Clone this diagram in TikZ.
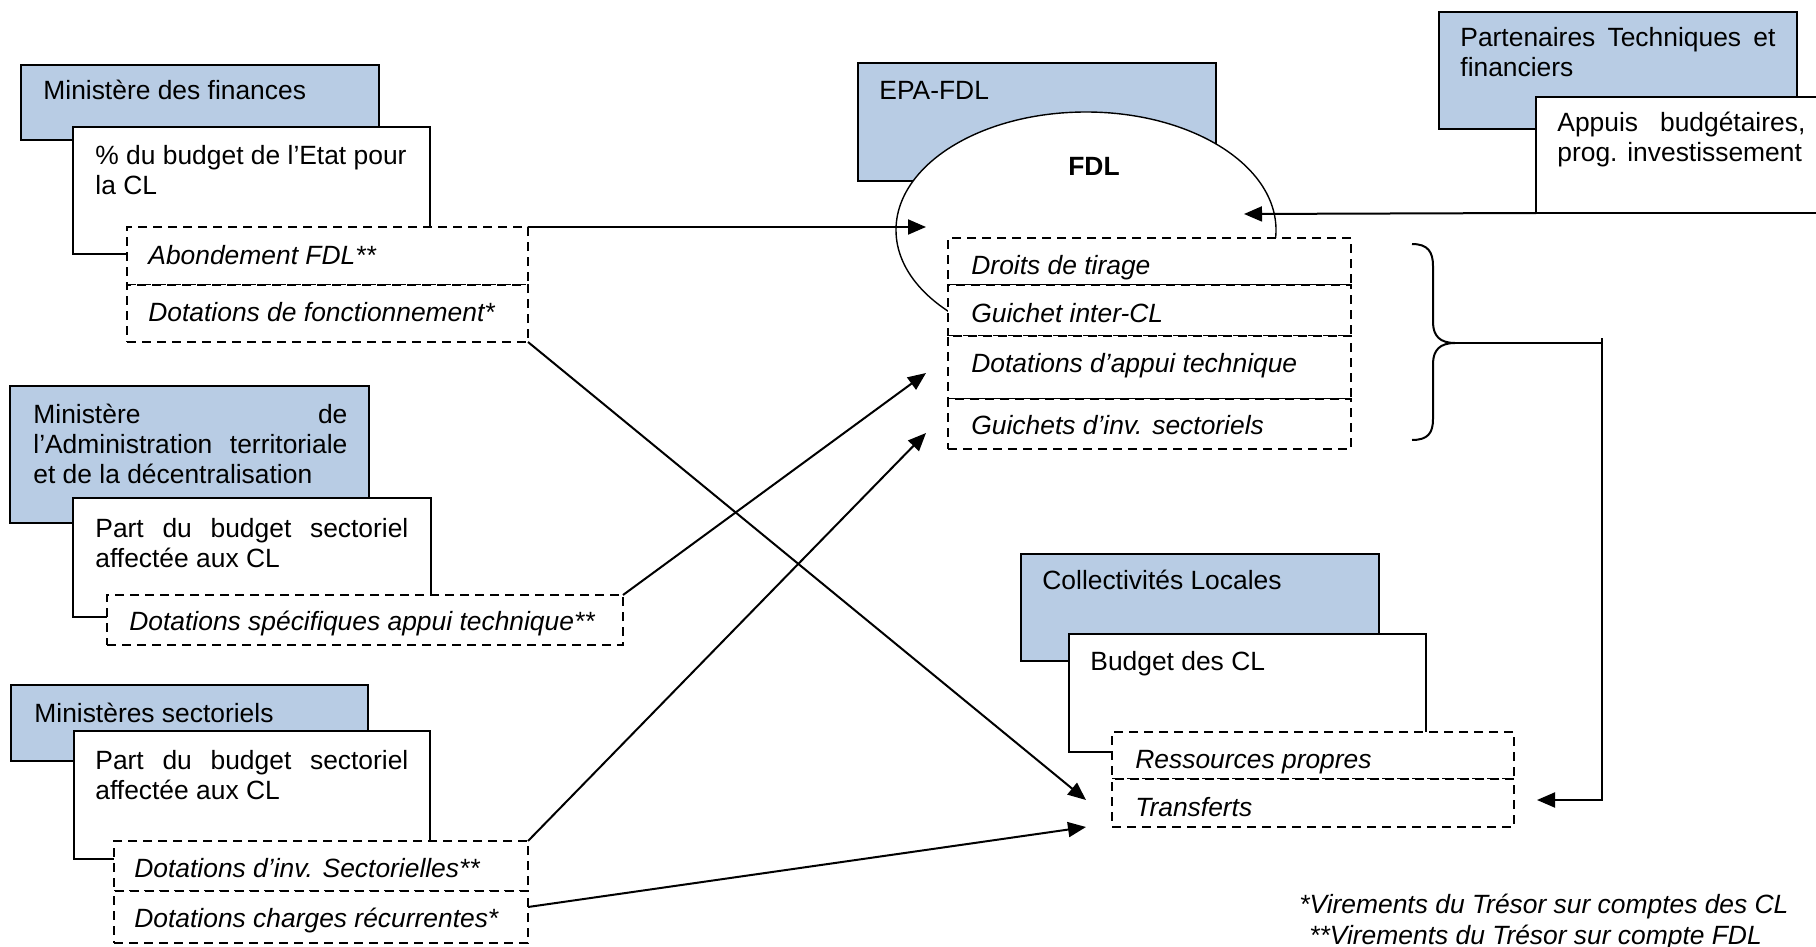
\documentclass[tikz,border=0pt]{standalone}
\usepackage{fontspec}
\setmainfont{Liberation Sans}
\usetikzlibrary{arrows.meta,fit,shapes.geometric}
\definecolor{boxblue}{RGB}{184,204,228}
\newcommand{\fs}{\fontsize{13.2}{15}\selectfont}
\newcommand{\mkbox}[6]{\path (#2,#3) coordinate (#1-nw) (#4,#5) coordinate (#1-se); \node[fit=(#1-nw)(#1-se), #6] (#1) {};}
\begin{document}
\begin{tikzpicture}[x=0.5pt,y=-0.5pt,
  bluebox/.style={draw=black, line width=1pt, fill=boxblue, inner sep=0pt, outer sep=0pt},
  whitebox/.style={draw=black, line width=1pt, fill=white, inner sep=0pt, outer sep=0pt},
  dashbox/.style={draw=black, line width=0.9pt, fill=white, dash pattern=on 4.5pt off 3pt, inner sep=0pt, outer sep=0pt},
  txt/.style={anchor=base west, inner sep=0pt, font=\fs},
  itxt/.style={anchor=base west, inner sep=0pt, font=\fs\itshape},
  arr/.style={line width=1pt, -{Triangle[length=9pt,width=7.5pt]}},
  conn/.style={line width=1pt},
]
\useasboundingbox (0,0) rectangle (1816,947);
\clip (0,0) rectangle (1816,947);

% Ministere des finances
\mkbox{mf}{21}{65}{379}{140}{bluebox}
\node[txt] (mft) at (43,100) {Ministère des finances};
\mkbox{mfw}{73}{127}{430}{254}{whitebox}
\node[txt] (mfwt) at (95,164) {\vtop{\hbox{\% du budget de l’Etat pour}\hbox{la CL}}};
\mkbox{abond}{127}{227}{528}{285}{dashbox}
\node[itxt] (abondt) at (148,264) {Abondement FDL**};
\mkbox{dfonct}{127}{285}{528}{342}{dashbox}
\node[itxt] (dfonctt) at (148,321) {Dotations de fonctionnement*};

% Ministere de l'Administration territoriale
\mkbox{mat}{10}{386}{369}{523}{bluebox}
\node[txt] (matt) at (33,423) {\vtop{\hbox to 157pt{Ministère\hfill de}\hbox to 157pt{l’Administration\hfill territoriale}\hbox{et de la décentralisation}}};
\mkbox{matw}{73}{498}{431}{617}{whitebox}
\node[txt] (matwt) at (95,537) {\vtop{\hbox to 156.5pt{Part\hfill du\hfill budget\hfill sectoriel}\hbox{affectée aux CL}}};
\mkbox{dspec}{107}{595}{623}{645}{dashbox}
\node[itxt] (dspect) at (129,630) {Dotations spécifiques appui technique**};

% Ministeres sectoriels
\mkbox{ms}{11}{685}{368}{761}{bluebox}
\node[txt] (mst) at (34,722) {Ministères sectoriels};
\mkbox{msw}{74}{731}{430}{859}{whitebox}
\node[txt] (mswt) at (95,769) {\vtop{\hbox to 156.5pt{Part\hfill du\hfill budget\hfill sectoriel}\hbox{affectée aux CL}}};
\mkbox{dinv}{114}{841}{528}{891}{dashbox}
\node[itxt] (dinvt) at (134,877) {Dotations d’inv. Sectorielles**};
\mkbox{dchg}{114}{891}{528}{943}{dashbox}
\node[itxt] (dchgt) at (134,927) {Dotations charges récurrentes*};

% EPA-FDL
\mkbox{epa}{858}{63}{1216}{181}{bluebox}
\node[txt] (epat) at (879,100) {EPA-FDL};
\node[ellipse, draw=black, line width=0.7pt, fill=white, minimum width=190pt, minimum height=118pt, inner sep=0pt] (fdl) at (1086,230) {};
\node[anchor=base, inner sep=0pt, font=\fs\bfseries] (fdlt) at (1094,176) {FDL};
\mkbox{drt}{948}{238}{1351}{285}{dashbox}
\node[itxt] (drtt) at (971,274) {Droits de tirage};
\mkbox{gic}{948}{285}{1351}{336}{dashbox}
\node[itxt] (gict) at (971,322) {Guichet inter-CL};
\mkbox{dat}{948}{336}{1351}{399}{dashbox}
\node[itxt] (datt) at (971,372) {Dotations d’appui technique};
\mkbox{gis}{948}{399}{1351}{449}{dashbox}
\node[itxt] (gist) at (971,434) {Guichets d’inv. sectoriels};

% Partenaires
\mkbox{ptf}{1439}{12}{1797}{129}{bluebox}
\node[txt] (ptft) at (1460,47) {\vtop{\hbox to 157.5pt{Partenaires\hfill Techniques\hfill et}\hbox{financiers}}};
\mkbox{ptfw}{1536}{97}{1850}{213}{whitebox}
\node[txt] (ptfwt) at (1557,132) {\vtop{\hbox to 124pt{Appuis\hfill budgétaires,}\hbox{prog. investissement}}};

% Collectivites locales
\mkbox{cl}{1021}{554}{1379}{661}{bluebox}
\node[txt] (clt) at (1042,589) {Collectivités Locales};
\mkbox{clw}{1069}{634}{1426}{752}{whitebox}
\node[txt] (clwt) at (1090,670) {Budget des CL};
\mkbox{rp}{1112}{732}{1514}{779}{dashbox}
\node[itxt] (rpt) at (1135,768) {Ressources propres};
\mkbox{trf}{1112}{779}{1514}{827}{dashbox}
\node[itxt] (trft) at (1135,816) {Transferts};

% brace
\coordinate (brtip) at (1455,343);
\draw[conn] (1412,244) .. controls (1428,244) and (1433,252) .. (1433,266) -- (1433,322) .. controls (1433,336) and (1440,343) .. (brtip) .. controls (1440,343) and (1433,350) .. (1433,364) -- (1433,419) .. controls (1433,433) and (1428,440) .. (1412,440);
\coordinate (bk0) at (1602,338);
\coordinate (bk1) at (1602,343);
\coordinate (bk2) at (1602,800);
\coordinate (clin3) at (1537,800);
\draw[conn] (brtip) -- (bk1);
\draw[arr] (bk0) -- (bk2) -- (clin3);

% arrows
\coordinate (fdlin1) at (926,227);
\coordinate (fdlin2) at (1244,214);
\coordinate (fdlin3) at (926,373);
\coordinate (fdlin4) at (926,433);
\coordinate (clin1) at (1086,800);
\coordinate (clin2) at (1086,827);
\coordinate (dchgout) at (528,907);
\draw[arr] (abond.north east) -- (fdlin1);
\draw[arr] (ptfw.south west) -- (fdlin2);
\draw[arr] (dspec.north east) -- (fdlin3);
\draw[arr] (dinv.north east) -- (fdlin4);
\draw[arr] (dfonct.south east) -- (clin1);
\draw[arr] (dchgout) -- (clin2);
\draw[conn] (ptfw.south west) -- (ptfw.south east);

% footnotes
\node[itxt] (fn1) at (1299,913) {*Virements du Trésor sur comptes des CL};
\node[itxt] (fn2) at (1309,944) {**Virements du Trésor sur compte FDL};
\end{tikzpicture}
\end{document}
